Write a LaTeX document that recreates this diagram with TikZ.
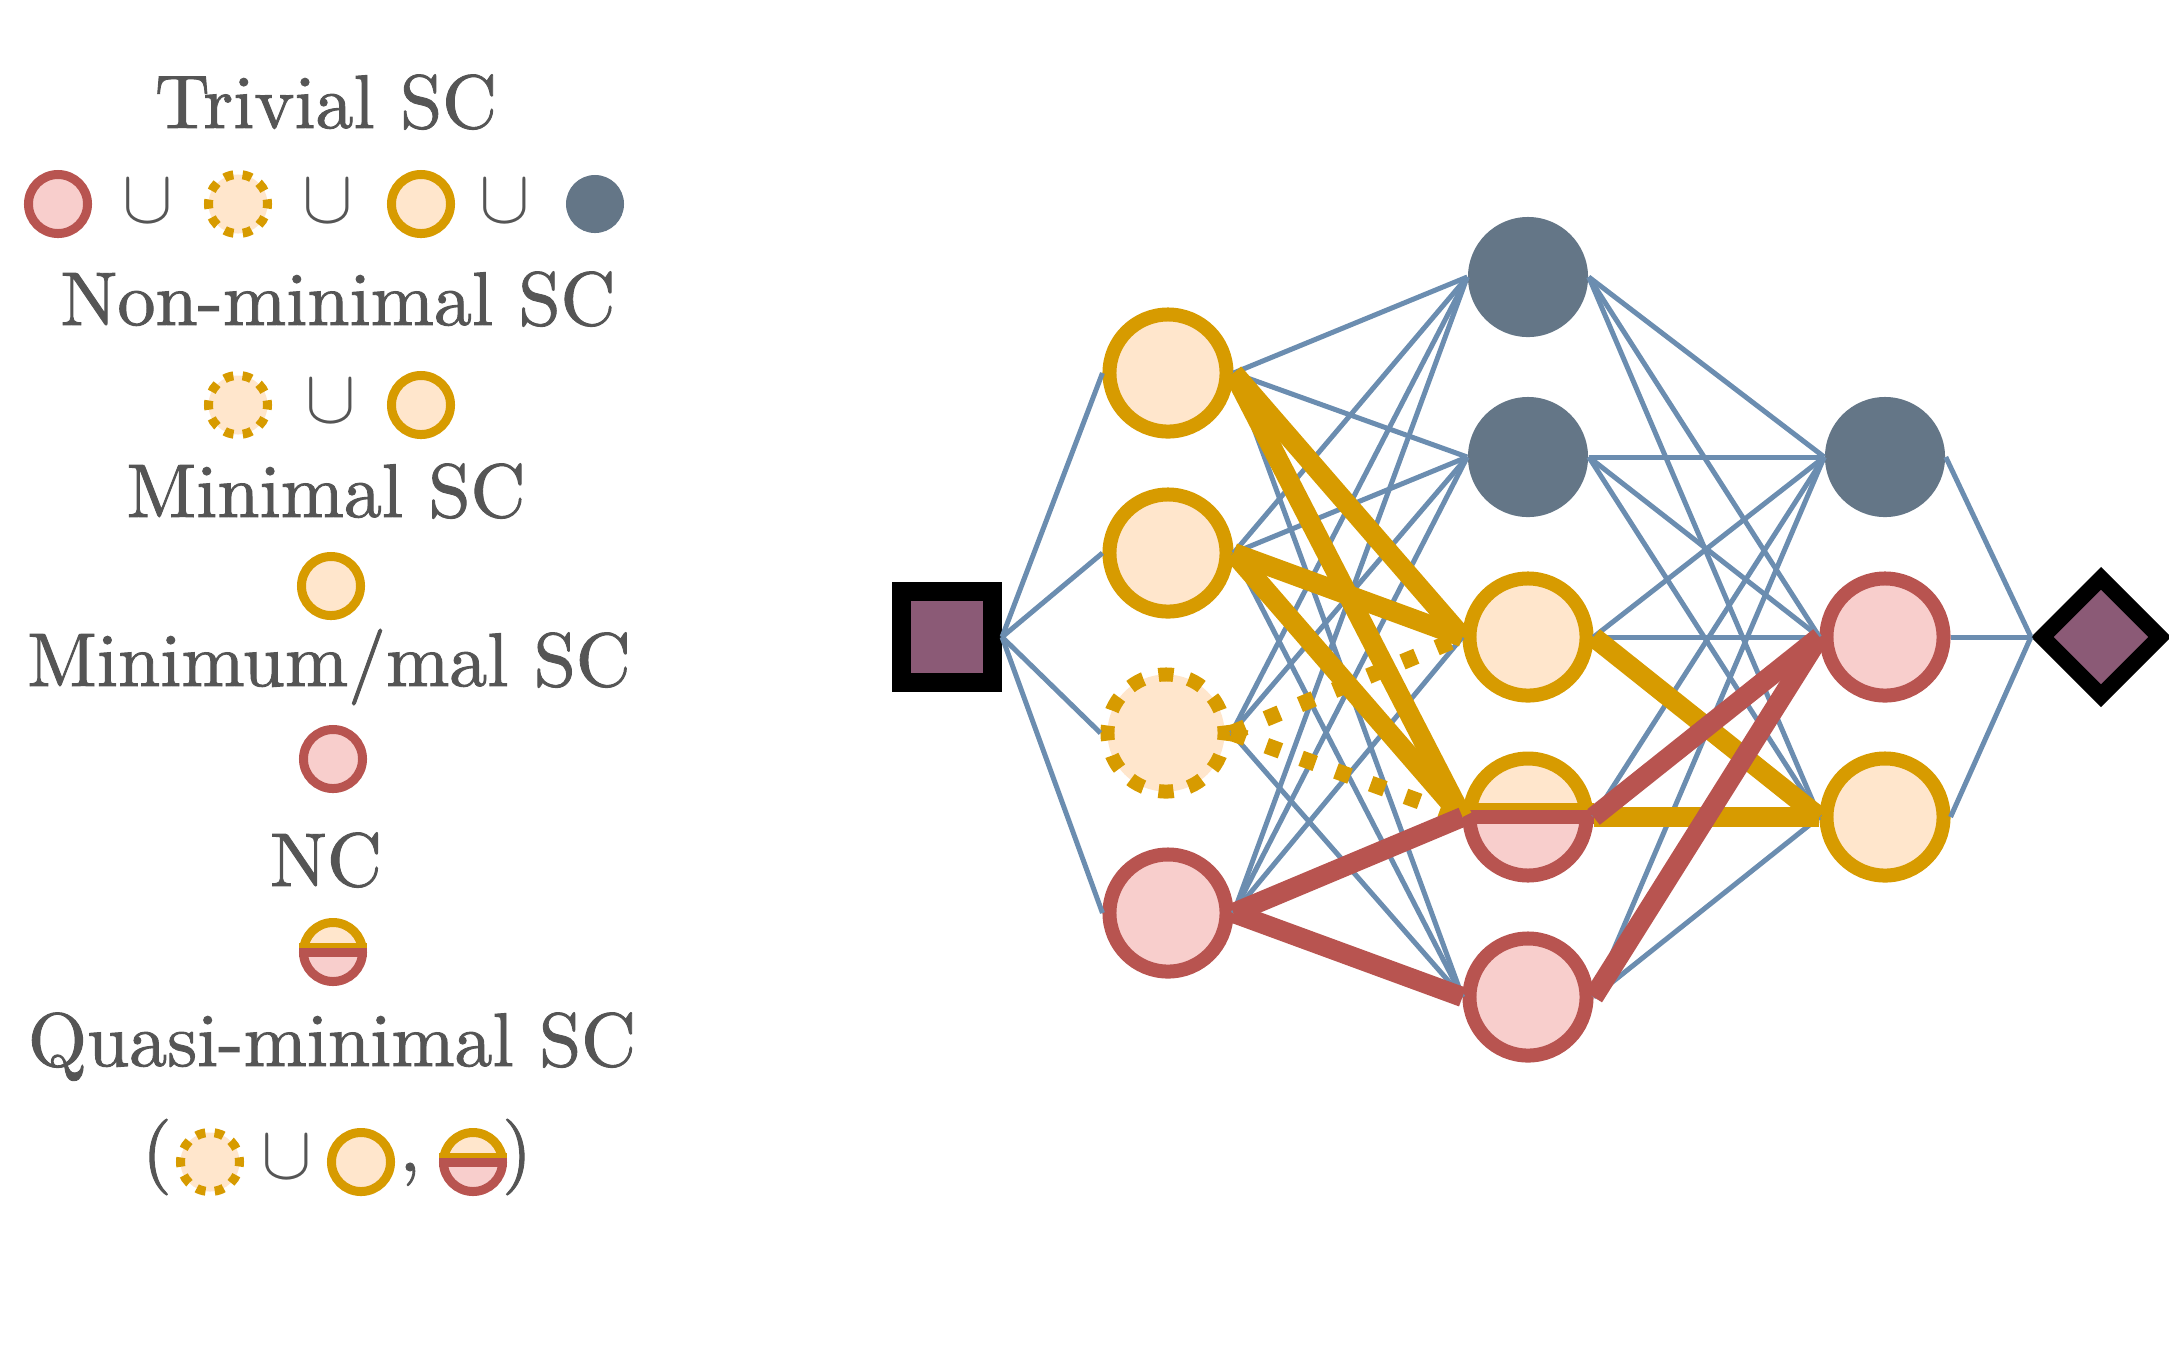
\documentclass[tikz,border=0pt]{standalone}
\usetikzlibrary{shapes.geometric}
\definecolor{yel}{HTML}{D79B00}
\definecolor{cream}{HTML}{FFE6CC}
\definecolor{redd}{HTML}{B85450}
\definecolor{pinkk}{HTML}{F8CECC}
\definecolor{grayn}{HTML}{647687}
\definecolor{bluel}{HTML}{6B8DB0}
\definecolor{purp}{HTML}{8B5A76}
\definecolor{txt}{HTML}{555555}
\font\lgdfont="[lmroman10-regular.otf]:mapping=tex-text;embolden=1.2" at 21.6pt
\font\lgdsy=cmsy10 at 21.6pt
\tikzset{
  lt/.style={text=txt, font=\lgdfont, inner sep=0pt, anchor=base},
  lsym/.style={text=txt, font=\lgdsy, inner sep=0pt},
  lring/.style={circle, inner sep=0pt, minimum size=0.59cm, line width=0.9mm},
  lyel/.style={lring, draw=yel, fill=cream},
  lpink/.style={lring, draw=redd, fill=pinkk},
  ldash/.style={lyel, dash pattern=on 0.93mm off 0.924mm, dash phase=0.465mm},
  lgray/.style={circle, inner sep=0pt, minimum size=0.58cm, fill=grayn},
  nring/.style={circle, inner sep=0pt, minimum size=1.17cm, line width=1.4mm},
  ynode/.style={nring, draw=yel, fill=cream},
  rnode/.style={nring, draw=redd, fill=pinkk},
  dnode/.style={ynode, dash pattern=on 1.5mm off 1.563mm, dash phase=0.75mm},
  gnode/.style={circle, inner sep=0pt, minimum size=1.2cm, fill=grayn},
  sqnode/.style={rectangle, inner sep=0pt, minimum size=0.91cm, draw=black, fill=purp, line width=1.9mm},
  dmnode/.style={diamond, inner sep=0pt, minimum size=1.24cm, draw=black, fill=purp, line width=1.6mm},
  bedge/.style={draw=bluel, line width=0.5mm},
  yedge/.style={draw=yel, line width=2.0mm},
  dedge/.style={draw=yel, line width=1.6mm, dash pattern=on 1.5mm off 2.2mm},
  redge/.style={draw=redd, line width=2.0mm},
}
% half symbol: name, x, y, radius(px), line width(px)
\newcommand\halfsym[5]{%
  \node[circle, inner sep=0pt, minimum size=#4*0.02cm, line width=#5*0.1mm] (#1) at (#2,#3) {};
  \begin{scope}[shift={(#2,#3)}]
    \begin{scope}
      \clip (-2*#4,-2*#4) rectangle (2*#4,0);
      \draw[draw=yel, fill=cream, line width=#5*0.1mm] (0,0) circle[radius=#4];
      \draw[yel, line width=#5*0.1mm] (-#4-#5/2,-#5/2) -- (#4+#5/2,-#5/2);
    \end{scope}
    \begin{scope}
      \clip (-2*#4,0) rectangle (2*#4,2*#4);
      \draw[draw=redd, fill=pinkk, line width=#5*0.1mm] (0,0) circle[radius=#4];
    \end{scope}
    \draw[redd, line width=#5*0.1mm] (-#4-#5/2,0) -- (#4+#5/2,0);
  \end{scope}
}
\begin{document}
\begin{tikzpicture}[x=0.01cm,y=-0.01cm]
\useasboundingbox (0,0) rectangle (2169,1347);

% ---------- legend ----------
\node[lt] (t1) at (326,128) {Trivial SC};
\node[lpink] (l1a) at (58,204) {};
\node[lsym] (l1b) at (148,201) {\char"5B};
\node[ldash] (l1c) at (238,204) {};
\node[lsym] (l1d) at (328,201) {\char"5B};
\node[lyel] (l1e) at (421,204) {};
\node[lsym] (l1f) at (505,201) {\char"5B};
\node[lgray] (l1g) at (595,204) {};

\node[lt] (t2) at (338,325) {Non-minimal SC};
\node[ldash] (l2a) at (238,405) {};
\node[lsym] (l2b) at (331,401) {\char"5B};
\node[lyel] (l2c) at (421,405) {};

\node[lt] (t3) at (326,517) {Minimal SC};
\node[lyel] (l3a) at (331,586) {};

\node[lt] (t4) at (329,686) {Minimum/mal SC};
\node[lpink] (l4a) at (333,759) {};

\node[lt] (t5) at (326,886) {NC};
\halfsym{l5a}{333}{952}{29.5}{9}

\node[lt] (t6) at (332,1066) {Quasi-minimal SC};
\node[lt, anchor=center] (l6a) at (157,1157) {(};
\node[ldash] (l6b) at (210,1162) {};
\node[lsym] (l6c) at (287,1157) {\char"5B};
\node[lyel] (l6d) at (361,1162) {};
\node[lt] (l6e) at (410,1171) {,};
\halfsym{l6f}{473}{1162}{29.5}{9}
\node[lt, anchor=center] (l6g) at (517,1157) {)};

% ---------- network ----------
\node[sqnode] (in) at (947,637) {};
\node[ynode] (a1) at (1168,373) {};
\node[ynode] (a2) at (1168,553) {};
\node[dnode] (a3) at (1166,733) {};
\node[rnode] (a4) at (1168,913) {};
\node[gnode] (b1) at (1528,277) {};
\node[gnode] (b2) at (1528,457) {};
\node[ynode] (b3) at (1528,637) {};
\halfsym{b4}{1528}{817}{58.5}{14}
\node[rnode] (b5) at (1528,997) {};
\node[gnode] (c1) at (1885,457) {};
\node[rnode] (c2) at (1885,637) {};
\node[ynode] (c3) at (1885,817) {};
\node[dmnode] (out) at (2101,637) {};

\foreach \s/\t in {in/a1,in/a2,in/a3,in/a4,
  a1/b1,a1/b2,a1/b5,a2/b1,a2/b2,a2/b5,a3/b1,a3/b2,a3/b5,a4/b1,a4/b2,a4/b3,
  b1/c1,b1/c2,b1/c3,b2/c1,b2/c2,b2/c3,b3/c1,b3/c2,b4/c1,b5/c1,b5/c3,
  c1/out,c2/out,c3/out}
  \draw[bedge] (\s.east) -- (\t.west);
\foreach \s/\t in {a1/b3,a1/b4,a2/b3,a2/b4,b3/c3,b4/c3}
  \draw[yedge] (\s.east) -- (\t.west);
\foreach \s/\t in {a3/b3,a3/b4}
  \draw[dedge] (\s.east) -- (\t.west);
\foreach \s/\t in {a4/b4,a4/b5,b4/c2,b5/c2}
  \draw[redge] (\s.east) -- (\t.west);
\end{tikzpicture}
\end{document}
